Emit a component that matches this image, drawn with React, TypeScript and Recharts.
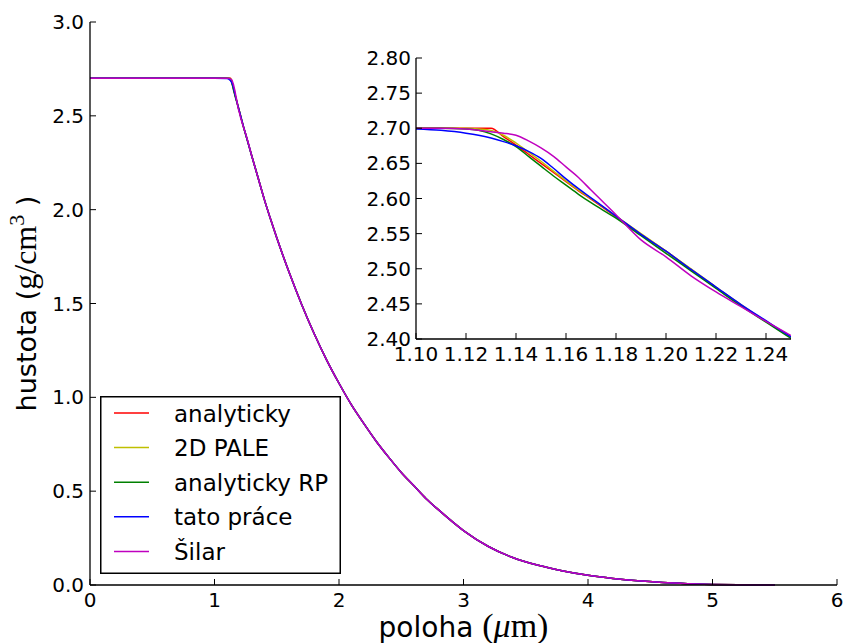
import React from "react";
import { LineChart, Line, XAxis, YAxis, CartesianGrid, Legend } from "recharts";

// poloha (um) -- the flat part before the rarefaction
const headX = [0, 0.5, 1.0];
const headRho = [2.7, 2.7, 2.7];

// detail around the head of the wave (this is what the inset shows)
const insetX = [
  1.1, 1.11, 1.12, 1.125, 1.13, 1.135, 1.14, 1.145, 1.15, 1.155, 1.16, 1.165,
  1.17, 1.18, 1.19, 1.2, 1.21, 1.22, 1.23, 1.24, 1.25,
];
const analyticky = [
  2.7, 2.7, 2.7, 2.7, 2.7, 2.688, 2.676, 2.663, 2.65, 2.637, 2.624, 2.611,
  2.599, 2.574, 2.549, 2.525, 2.499, 2.473, 2.448, 2.425, 2.402,
];
const pale2d = [
  2.7, 2.7, 2.7, 2.699, 2.697, 2.69, 2.679, 2.666, 2.653, 2.639, 2.625, 2.612,
  2.6, 2.575, 2.55, 2.525, 2.5, 2.474, 2.449, 2.425, 2.402,
];
const analytickyRP = [
  2.7, 2.7, 2.699, 2.697, 2.692, 2.684, 2.674, 2.66, 2.646, 2.632, 2.619,
  2.606, 2.594, 2.572, 2.547, 2.522, 2.497, 2.472, 2.447, 2.424, 2.401,
];
const tatoPrace = [
  2.699, 2.697, 2.693, 2.69, 2.686, 2.681, 2.675, 2.667, 2.657, 2.643, 2.628,
  2.614, 2.601, 2.575, 2.549, 2.525, 2.499, 2.474, 2.449, 2.426, 2.403,
];
const silar = [
  2.7, 2.7, 2.699, 2.697, 2.695, 2.693, 2.69, 2.682, 2.672, 2.66, 2.645, 2.63,
  2.612, 2.577, 2.541, 2.517, 2.49, 2.467, 2.446, 2.425, 2.405,
];

// the rest of the profile, all curves overlap here
const tailX = [
  1.3, 1.35, 1.4, 1.45, 1.5, 1.6, 1.7, 1.8, 1.9, 2.0, 2.1, 2.2, 2.3, 2.4, 2.5,
  2.6, 2.7, 2.8, 3.0, 3.2, 3.4, 3.6, 3.8, 4.0, 4.2, 4.4, 4.6, 4.8, 5.0, 5.2, 5.5,
];
const tailRho = [
  2.285, 2.17, 2.055, 1.95, 1.85, 1.665, 1.495, 1.34, 1.2, 1.075, 0.96, 0.86,
  0.765, 0.68, 0.6, 0.53, 0.46, 0.4, 0.29, 0.205, 0.145, 0.105, 0.075, 0.052,
  0.035, 0.022, 0.013, 0.007, 0.003, 0.001, 0.0,
];

const xTicks = [0, 1, 2, 3, 4, 5, 6];
const yTicks = [0, 0.5, 1, 1.5, 2, 2.5, 3];
const insetXTicks = [1.1, 1.12, 1.14, 1.16, 1.18, 1.2, 1.22, 1.24];
const insetYTicks = [2.4, 2.45, 2.5, 2.55, 2.6, 2.65, 2.7, 2.75, 2.8];

const series = [
  { key: "r", name: "analyticky", color: "#ff0000", values: analyticky },
  { key: "y", name: "2D PALE", color: "#bfbf00", values: pale2d },
  { key: "g", name: "analyticky RP", color: "#008000", values: analytickyRP },
  { key: "b", name: "tato práce", color: "#0000ff", values: tatoPrace },
  { key: "m", name: "Šilar", color: "#bf00bf", values: silar },
];

const allX = [...headX, ...insetX, ...tailX];
const data = allX.map((x, i) => {
  const row: any = { x };
  series.forEach((s) => {
    row[s.key] = [...headRho, ...s.values, ...tailRho][i];
  });
  return row;
});
const insetData = data.filter((d) => d.x >= 1.1 && d.x <= 1.25);

const FONT = "DejaVu Sans";
const SERIF = "Liberation Serif";
const TICK = 6;
const TICK_FS = 20;

const bottomTick = (fmt: (v: number) => string, dy: number) => (p: any) => (
  <g>
    <line x1={p.x} y1={p.y} x2={p.x} y2={p.y - TICK} stroke="#000" strokeWidth={1} />
    <text x={p.x} y={p.y + dy} textAnchor="middle" fontSize={TICK_FS} fontFamily={FONT} fill="#000">
      {fmt(p.payload.value)}
    </text>
  </g>
);
const leftTick = (fmt: (v: number) => string, dx: number) => (p: any) => (
  <g>
    <line x1={p.x} y1={p.y} x2={p.x + TICK} y2={p.y} stroke="#000" strokeWidth={1} />
    <text x={p.x - dx} y={p.y + 7} textAnchor="end" fontSize={TICK_FS} fontFamily={FONT} fill="#000">
      {fmt(p.payload.value)}
    </text>
  </g>
);
const topTick = (p: any) => (
  <line x1={p.x} y1={p.y} x2={p.x} y2={p.y + TICK} stroke="#000" strokeWidth={1} />
);
const rightTick = (p: any) => (
  <line x1={p.x} y1={p.y} x2={p.x - TICK} y2={p.y} stroke="#000" strokeWidth={1} />
);

const axisLine = { stroke: "#000", strokeWidth: 1.3 };

const renderLegend = () => (
  <svg width={241} height={178} style={{ display: "block" }}>
    <rect x={0.75} y={0.75} width={239.5} height={176.5} fill="#fff" stroke="#000" strokeWidth={1.5} />
    {series.map((s, i) => {
      const cy = 17 + i * 34.6;
      return (
        <g key={s.key}>
          <line x1={14} x2={49} y1={cy} y2={cy} stroke={s.color} strokeWidth={1.5} />
          <text x={74} y={cy + 8.5} fontSize={23} fontFamily={FONT} fill="#000">
            {s.name}
          </text>
        </g>
      );
    })}
  </svg>
);

const XLabel = (props: any) => {
  const vb = props.viewBox;
  return (
    <text x={vb.x + vb.width / 2} y={637} textAnchor="middle" fontSize={28} fontFamily={FONT} fill="#000">
      poloha <tspan fontFamily={SERIF} fontSize={34}>(</tspan>
      <tspan fontFamily={SERIF} fontSize={34} fontStyle="italic">μ</tspan>
      <tspan fontFamily={SERIF} fontSize={34}>m)</tspan>
    </text>
  );
};

const YLabel = (props: any) => {
  const vb = props.viewBox;
  const cy = vb.y + vb.height / 2;
  return (
    <text transform={`translate(35.5, ${cy}) rotate(-90)`} textAnchor="middle" fontSize={27} fontFamily={FONT} fill="#000">
      hustota (<tspan fontFamily={SERIF} fontSize={32}>g/cm</tspan>
      <tspan fontFamily={SERIF} fontSize={22} dy={-12}>3</tspan>
      <tspan dy={12}> )</tspan>
    </text>
  );
};

export default function App() {
  return (
    <div style={{ position: "fixed", left: 0, top: 0, width: 843, height: 643, background: "#fff", overflow: "hidden" }}>
      <LineChart width={843} height={643} data={data} margin={{ top: 22, right: 6, bottom: 0, left: 0 }}>
        <XAxis
          xAxisId="b"
          dataKey="x"
          type="number"
          domain={[0, 6]}
          ticks={xTicks}
          interval={0}
          height={58}
          tickSize={0}
          tickMargin={0}
          tickLine={false}
          axisLine={axisLine}
          tick={bottomTick((v) => String(v), 21.5)}
          label={{ content: XLabel }}
        />
        <XAxis
          xAxisId="t"
          dataKey="x"
          type="number"
          orientation="top"
          domain={[0, 6]}
          ticks={xTicks}
          interval={0}
          height={0}
          tickSize={0}
          tickMargin={0}
          tickLine={false}
          axisLine={axisLine}
          tick={topTick}
        />
        <YAxis
          yAxisId="l"
          type="number"
          domain={[0, 3]}
          ticks={yTicks}
          interval={0}
          width={90}
          tickSize={0}
          tickMargin={0}
          tickLine={false}
          axisLine={axisLine}
          tick={leftTick((v) => v.toFixed(1), 6)}
          label={{ content: YLabel }}
        />
        <YAxis
          yAxisId="r"
          type="number"
          orientation="right"
          domain={[0, 3]}
          ticks={yTicks}
          interval={0}
          width={0}
          tickSize={0}
          tickMargin={0}
          tickLine={false}
          axisLine={axisLine}
          tick={rightTick}
        />
        {series.map((s) => (
          <Line
            key={s.key}
            xAxisId="b"
            yAxisId="l"
            dataKey={s.key}
            name={s.name}
            type="monotone"
            stroke={s.color}
            strokeWidth={1.5}
            dot={false}
            isAnimationActive={false}
          />
        ))}
        <Legend
          layout="vertical"
          align="center"
          verticalAlign="middle"
          content={renderLegend}
          wrapperStyle={{ left: 100, top: 396, width: 241, height: 178 }}
        />
      </LineChart>

      <div style={{ position: "absolute", left: 326, top: 30 }}>
        <LineChart width={480} height={345} data={insetData} margin={{ top: 28, right: 15, bottom: 0, left: 0 }}>
          <CartesianGrid xAxisId="b" yAxisId="l" horizontal={false} vertical={false} fill="#fff" />
          <XAxis
            xAxisId="b"
            dataKey="x"
            type="number"
            domain={[1.1, 1.25]}
            allowDataOverflow
            ticks={insetXTicks}
            interval={0}
            height={36}
            tickSize={0}
            tickMargin={0}
            tickLine={false}
            axisLine={axisLine}
            tick={bottomTick((v) => v.toFixed(2), 21.5)}
          />
          <XAxis
            xAxisId="t"
            dataKey="x"
            type="number"
            orientation="top"
            domain={[1.1, 1.25]}
            allowDataOverflow
            ticks={insetXTicks}
            interval={0}
            height={0}
            tickSize={0}
            tickMargin={0}
            tickLine={false}
            axisLine={axisLine}
            tick={topTick}
          />
          <YAxis
            yAxisId="l"
            type="number"
            domain={[2.4, 2.8]}
            allowDataOverflow
            ticks={insetYTicks}
            interval={0}
            width={90}
            tickSize={0}
            tickMargin={0}
            tickLine={false}
            axisLine={axisLine}
            tick={leftTick((v) => v.toFixed(2), 5)}
          />
          <YAxis
            yAxisId="r"
            type="number"
            orientation="right"
            domain={[2.4, 2.8]}
            allowDataOverflow
            ticks={insetYTicks}
            interval={0}
            width={0}
            tickSize={0}
            tickMargin={0}
            tickLine={false}
            axisLine={axisLine}
            tick={rightTick}
          />
          {series.map((s) => (
            <Line
              key={s.key}
              xAxisId="b"
              yAxisId="l"
              dataKey={s.key}
              type="monotone"
              stroke={s.color}
              strokeWidth={1.5}
              dot={false}
              isAnimationActive={false}
            />
          ))}
        </LineChart>
      </div>
    </div>
  );
}
